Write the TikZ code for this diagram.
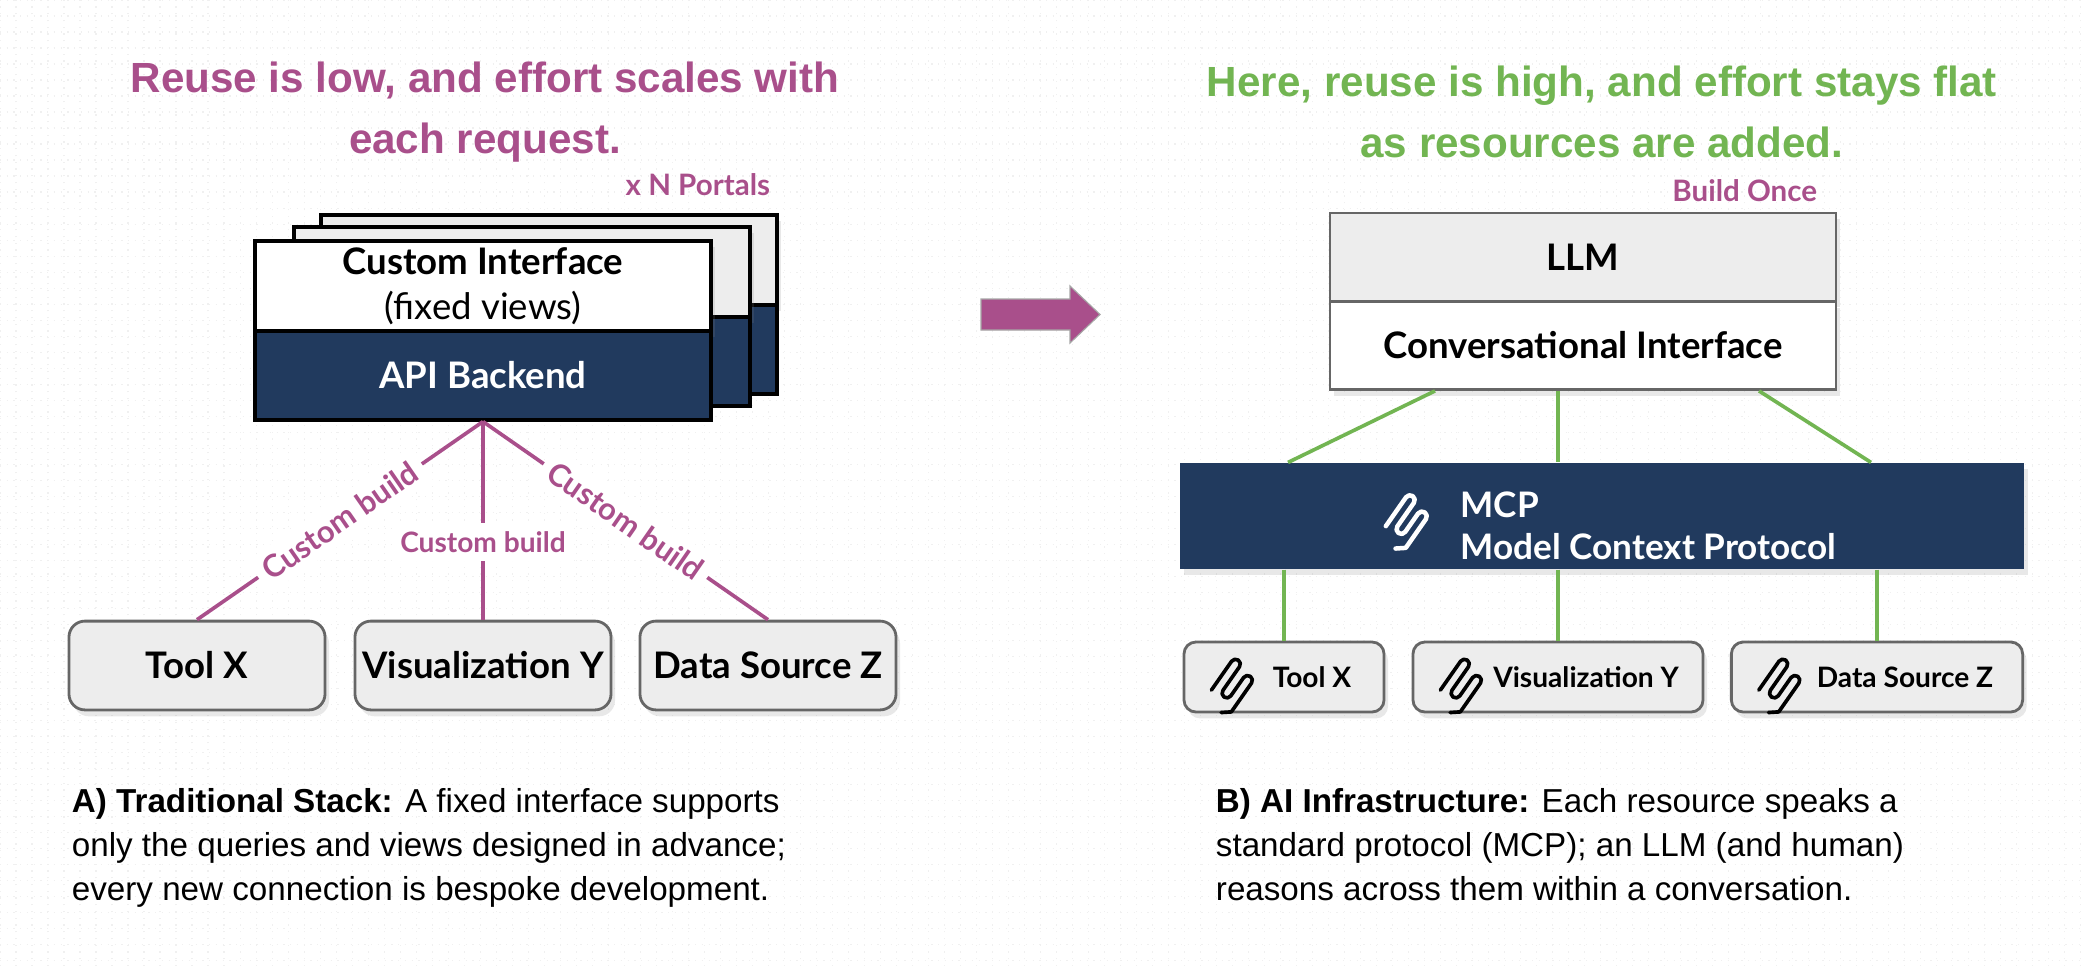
\documentclass[tikz,border=0pt]{standalone}
\usepackage{fontspec}
\setmainfont{Lato}
\newfontfamily\arialfont{Liberation Sans}
\usetikzlibrary{calc,shadows}

\definecolor{magentaA}{HTML}{A94F8B}
\definecolor{greenA}{HTML}{72B552}
\definecolor{navyA}{HTML}{213A5E}
\definecolor{boxgray}{HTML}{EDEDED}

\tikzset{
  shadowed/.style={drop shadow={opacity=0.18,shadow xshift=0.05cm,shadow yshift=-0.08cm}},
  card/.style={draw=black,line width=1.2pt,inner sep=0pt,minimum width=5.7cm},
  resbox/.style={draw=gray!80!black,line width=1pt,fill=boxgray,rounded corners=0.2cm,
                 shadowed,inner sep=0pt,font=\fontsize{13}{15}\selectfont\bfseries},
  smallres/.style={resbox,rounded corners=0.15cm,minimum height=0.875cm,
                   font=\fontsize{10}{12}\selectfont\bfseries},
  buildlabel/.style={font=\fontsize{11}{13}\selectfont\bfseries,text=magentaA,fill=white,inner sep=3pt},
  cornertag/.style={font=\fontsize{10.5}{12}\selectfont\bfseries,text=magentaA,anchor=base east},
  titletext/.style={font=\arialfont\fontsize{15}{21.6}\selectfont\bfseries,align=center},
  captiontext/.style={font=\arialfont\fontsize{11.8}{15.6}\selectfont,align=left,anchor=base west},
  magline/.style={draw=magentaA,line width=1.3pt},
  grnline/.style={draw=greenA,line width=1.3pt},
  mcplogo/.pic={
    \draw[line width=#1,line cap=round,line join=round,x=1cm,y=1cm,rotate=-35]
      (0,-0.2) -- (0,0.24) arc[start angle=180,end angle=0,radius=0.06]
      -- (0.12,-0.12) arc[start angle=180,end angle=360,radius=0.06]
      -- (0.24,0.16) arc[start angle=180,end angle=0,radius=0.06]
      -- (0.36,-0.28) -- ++(-0.1,-0.08);
  }
}

\begin{document}
\begin{tikzpicture}[x=0.0125cm,y=-0.0125cm]
\useasboundingbox (0,0) rectangle (2084,966);
\fill[white] (0,0) rectangle (2084,966);
\draw[gray!12,dotted,step=0.2cm] (0,0) grid (2084,966);

% left side: traditional stack
\node[titletext,text=magentaA] (lefttitle) at (485,112)
  {Reuse is low, and effort scales with\\each request.};
\node[cornertag] (portals) at (780,195) {x N Portals};

\foreach \dx/\dy in {66/-26,39/-14}{
  \node[card,fill=boxgray,minimum height=1.125cm,shadowed] at (483+\dx,286+\dy) {};
  \node[card,fill=navyA,minimum height=1.11cm] at (483+\dx,375.5+\dy) {};
}
\node[card,fill=white,minimum height=1.125cm,shadowed,align=center,
      font=\fontsize{13}{16}\selectfont] (front) at (483,286)
  {\textbf{Custom Interface}\\(fixed views)};
\node[card,fill=navyA,minimum height=1.11cm,text=white,
      font=\fontsize{13}{15}\selectfont\bfseries] (backend) at (483,375.5) {API Backend};

\node[resbox,minimum width=3.2cm,minimum height=1.11cm] (toolx) at (197,665.5) {Tool X};
\node[resbox,minimum width=3.2cm,minimum height=1.11cm] (visy) at (483,665.5) {Visualization Y};
\node[resbox,minimum width=3.2cm,minimum height=1.11cm] (dataz) at (768,665.5) {Data Source Z};

\draw[magline] (backend.south) -- node[buildlabel,sloped] {Custom build} (toolx.north);
\draw[magline] (backend.south) -- node[buildlabel,pos=0.61,font=\fontsize{10}{12}\selectfont\bfseries] {Custom build} (visy.north);
\draw[magline] (backend.south) -- node[buildlabel,sloped] {Custom build} (dataz.north);

\node[captiontext] (leftcap) at (62,900)
  {\textbf{A) Traditional Stack:} A fixed interface supports\\
   only the queries and views designed in advance;\\
   every new connection is bespoke development.};

% middle arrow
\fill[magentaA,draw=gray!70,line width=0.4pt]
  (981,299) -- (1070,299) -- (1070,286) -- (1100,314.5) -- (1070,343) -- (1070,330) -- (981,330) -- cycle;

% right side: AI infrastructure
\node[titletext,text=greenA] (righttitle) at (1602,112)
  {Here, reuse is high, and effort stays flat\\as resources are added.};
\node[cornertag] (buildonce) at (1827,201) {Build Once};

\node[draw=gray!80!black,line width=1pt,fill=boxgray,minimum width=6.325cm,minimum height=1.1cm,
      shadowed,font=\fontsize{13}{15}\selectfont\bfseries] (llm) at (1583,257) {LLM};
\node[draw=gray!80!black,line width=1pt,fill=white,minimum width=6.325cm,minimum height=1.1cm,
      shadowed,font=\fontsize{13}{15}\selectfont\bfseries] (conv) at (1583,345.5) {Conversational Interface};

\node[fill=navyA,minimum width=10.55cm,minimum height=1.325cm,shadowed] (mcp) at (1602,516) {};
\pic[white] at (1395,513) {mcplogo=1.6pt};
\node[anchor=west,align=left,text=white,inner sep=0pt,
      font=\fontsize{12.5}{15}\selectfont\bfseries] (mcptext) at (1460,526)
  {MCP\\Model Context Protocol};

\draw[grnline] ($(conv.south)+(-148,0)$) -- ($(mcp.north)+(-314,0)$);
\draw[grnline] ($(conv.south)+(-25,0)$) -- ($(mcp.north)+(-44,0)$);
\draw[grnline] ($(conv.south)+(176,0)$) -- ($(mcp.north)+(269,0)$);

\node[smallres,minimum width=2.5cm] (toolr) at (1284,677) {\hspace*{0.7cm}Tool X};
\node[smallres,minimum width=3.625cm] (visr) at (1558,677) {\hspace*{0.7cm}Visualization Y};
\node[smallres,minimum width=3.64cm] (datar) at (1877,677) {\hspace*{0.7cm}Data Source Z};
\foreach \n in {toolr,visr,datar}{
  \pic[black] at ($(\n.west)+(38,0)$) {mcplogo=1.3pt};
  \draw[grnline] (\n.north |- mcp.south) -- (\n.north);
}

\node[captiontext] (rightcap) at (1206,900)
  {\textbf{B) AI Infrastructure:} Each resource speaks a\\
   standard protocol (MCP); an LLM (and human)\\
   reasons across them within a conversation.};
\end{tikzpicture}
\end{document}
